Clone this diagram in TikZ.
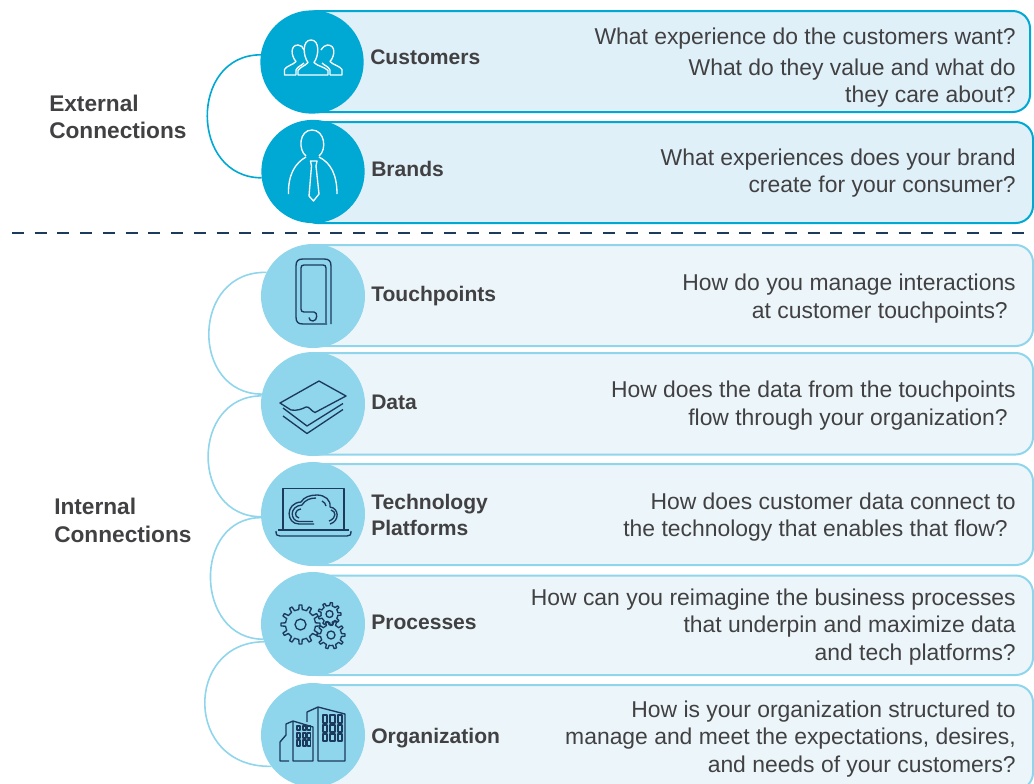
\documentclass[tikz,border=0pt]{standalone}
\usepackage{fontspec}
\setmainfont{Liberation Sans}
\usetikzlibrary{fit}
\definecolor{extc}{HTML}{00A8D4}
\definecolor{extf}{HTML}{DFF0F8}
\definecolor{intc}{HTML}{8FD5EC}
\definecolor{intf}{HTML}{ECF6FA}
\definecolor{navy}{HTML}{1B3A5C}
\definecolor{txt}{HTML}{414042}
\newcommand{\gearicon}[6]{%
  \begin{scope}[shift={(#1,#2)}]
    \pgfmathsetmacro{\gs}{360/#5}
    \foreach \gi in {1,...,#5}{
      \pgfmathsetmacro{\ga}{\gi*\gs}
      \draw[iconn] (\ga-0.5*\gs:#4) -- (\ga-0.22*\gs:#4) -- (\ga-0.14*\gs:#3) -- (\ga+0.14*\gs:#3) -- (\ga+0.22*\gs:#4) -- (\ga+0.5*\gs:#4);
    }
    \draw[iconn] (0,0) circle[radius=#6];
  \end{scope}}
\tikzset{
  x=0.75pt,y=-0.75pt,
  boxext/.style={draw=extc,fill=extf,line width=1.5pt,rounded corners=13pt,inner sep=0pt,outer sep=0pt},
  boxint/.style={draw=intc,fill=intf,line width=1.5pt,rounded corners=13pt,inner sep=0pt,outer sep=0pt},
  circext/.style={circle,fill=extc,minimum size=77.5pt,inner sep=0pt,outer sep=0pt},
  circint/.style={circle,fill=intc,minimum size=78pt,inner sep=0pt,outer sep=0pt},
  linkext/.style={draw=extc,line width=1.2pt},
  linkint/.style={draw=intc,line width=1.2pt},
  iconw/.style={draw=white,line width=1pt,line join=round},
  iconn/.style={draw=navy,line width=1pt,line join=round},
  topic/.style={font=\fontsize{15.8}{20}\selectfont\bfseries,text=txt,anchor=west,align=left,inner sep=0pt},
  group/.style={font=\fontsize{17}{20.6}\selectfont\bfseries,text=txt,anchor=west,align=left,inner sep=0pt},
  ask/.style={font=\fontsize{17.17}{20.4}\selectfont,text=txt,anchor=east,align=right,inner sep=0pt},
}
\begin{document}
\begin{tikzpicture}
\useasboundingbox (0,0) rectangle (1034,783);
% panels
\node[boxext,fit={(300,11)(1030,112)}] (bcust) {};
\node[boxext,fit={(300,122)(1033,223)}] (bbrand) {};
\node[boxint,fit={(300,245)(1033,346)}] (btouch) {};
\node[boxint,fit={(300,353)(1033,454.5)}] (bdata) {};
\node[boxint,fit={(300,464)(1033,565)}] (btech) {};
\node[boxint,fit={(300,575.5)(1033,675)}] (bproc) {};
\node[boxint,fit={(300,685)(1033,790)}] (borg) {};
% circles
\node[circext] (cust) at (312,62) {};
\node[circext] (brand) at (313,171.5) {};
\node[circint] (touch) at (313,296) {};
\node[circint] (data) at (313,404) {};
\node[circint] (tech) at (313,514) {};
\node[circint] (proc) at (313,624) {};
\node[circint] (org) at (313,735) {};
% connectors
\draw[linkext] (cust.172) .. controls +(-72,0) and +(-72,0) .. (brand.187);
\draw[linkint] (touch.153) .. controls +(-76,-2) and +(-72,0) .. (data.169);
\draw[linkint] (data.171) .. controls +(-71,0) and +(-71,0) .. (tech.183);
\draw[linkint] (tech.184) .. controls +(-69,0) and +(-69,0) .. (proc.197);
\draw[linkint] (proc.200) .. controls +(-80,0) and +(-88,2) .. (org.217);
% divider
\coordinate (dl) at (12,233);
\coordinate (dr) at (1024,233);
\draw[navy,line width=1.2pt,dash pattern=on 9pt off 8.05pt] (dl) -- (dr);
% labels
\node[group] (lext) at (49,117) {External\\Connections};
\node[group] (lint) at (54,520.5) {Internal\\Connections};
\node[topic] (tcust) at (370,57) {Customers};
\node[topic] (tbrand) at (371,169) {Brands};
\node[topic] (ttouch) at (371,296) {Touchpoints};
\node[topic] (tdata) at (371,402.5) {Data};
\node[topic] (ttech) at (371,515) {Technology\\Platforms};
\node[topic] (tproc) at (371,622) {Processes};
\node[topic] (torg) at (371,738) {Organization};
\node[ask] (q1) at (1016,38.5) {What experience do the customers want?};
\node[ask] (q1b) at (1016,83) {What do they value and what do\\they care about?};
\node[ask] (q2) at (1016,173) {What experiences does your brand\\create for your consumer?};
\node[ask] (q3) at (1016,298.5) {How do you manage interactions\\at customer touchpoints?\hspace*{6pt}};
\node[ask] (q4) at (1016,405.5) {How does the data from the touchpoints\\flow through your organization?\hspace*{6pt}};
\node[ask] (q5) at (1016,517) {How does customer data connect to\\the technology that enables that flow?\hspace*{6pt}};
\node[ask] (q6) at (1016,627) {How can you reimagine the business processes\\that underpin and maximize data\hspace*{4pt}\\and tech platforms?};
\node[ask] (q7) at (1016,739) {How is your organization structured to\\manage and meet the expectations, desires,\\and needs of your customers?};
% customers icon
\draw[iconw] (298,75) -- (298,70.5) .. controls (300,67) and (305,66) .. (308,62.5) .. controls (303,56) and (302,40) .. (311,40) .. controls (320,40) and (319,56) .. (314,62.5) .. controls (317,66) and (325,67) .. (328,70.5) -- (328,75) -- cycle;
\draw[iconw] (296,75) -- (284.5,75) -- (284.5,69.5) .. controls (286,66) and (293,65) .. (296,61.5) .. controls (291,56) and (290,45) .. (298,45) .. controls (301,45) and (303,47) .. (304,50);
\draw[iconw] (296,75) -- (296,70) .. controls (298,66) and (301,66) .. (304,63);
\draw[iconw] (330,75) -- (342,75) -- (342,69.5) .. controls (340,66) and (333,65) .. (330,61.5) .. controls (335,56) and (336,45) .. (327.5,45) .. controls (325,45) and (323,47) .. (321,50);
\draw[iconw] (330,75) -- (330,70) .. controls (328,66) and (325,66) .. (322,63);
% brands icon
\draw[iconw] (306,156) .. controls (298,150) and (299,130) .. (312,130) .. controls (325,130) and (327,150) .. (319,156);
\draw[iconw] (288.5,194) .. controls (288,175) and (295,163) .. (306,157);
\draw[iconw] (337,194) .. controls (337,175) and (331,163) .. (319,157);
\draw[iconw] (310.5,161) -- (317,161) -- (316,166) -- (319,194) -- (315,199) -- (313.5,201) -- (309,196) -- (311.5,166) -- cycle;
% touchpoints icon
\draw[iconn] (331,324) -- (331,266) .. controls (331,261) and (329,259) .. (324,259) -- (303,259) .. controls (298,259) and (296,261) .. (296,266) -- (296,317) .. controls (296,322) and (298,324) .. (303,324) -- (327,324);
\draw[iconn] (326,323) -- (326,268) .. controls (326,266) and (325,265) .. (323,265) -- (304,265) .. controls (302,265) and (301,266) .. (301,268) -- (301,309) .. controls (301,311) and (302,312) .. (304,312) -- (314,312) .. controls (318,312) and (317.5,321) .. (313,321) .. controls (311,321) and (309,320) .. (309,317.5);
% data icon
\draw[iconn] (319,381) -- (346,396) -- (315,412.5) .. controls (311,411) and (309,406) .. (306,407) .. controls (302,409) and (297,411) .. (291,410) -- (280,403) -- cycle;
\draw[iconn] (283,408) -- (307,426) -- (343,403.5);
\draw[iconn] (283,416) -- (307,433.5) -- (343,409.5);
% tech icon
\draw[iconn] (283,530) -- (283,488.5) -- (344,488.5) -- (344,530);
\draw[iconn] (276,531) .. controls (276,535) and (277,536) .. (280,536) -- (347,536) .. controls (350,536) and (351,535) .. (351,531);
\draw[iconn] (278,530) -- (349,530);
\draw[iconn] (314,524) -- (299,524) .. controls (286,524) and (285,503) .. (301,502) .. controls (304,497) and (310,495) .. (317,495) .. controls (325,495) and (331,500) .. (330,507) .. controls (339,508) and (340,521) .. (330,524);
\draw[iconn] (313,521.5) -- (299,521.5) .. controls (290,521) and (289,506) .. (302,505) .. controls (305,500) and (310,498) .. (316,498);
\draw[iconn] (299,518) .. controls (294,517) and (294,510) .. (301,509);
\draw[iconn] (331,510) .. controls (336,511) and (337,518) .. (329,521);
\draw[iconn] (322,501) .. controls (324,502) and (326,504) .. (326,506);
% gears
\gearicon{300.5}{624.5}{19.5}{15}{12}{5.5}
\gearicon{329.5}{614}{11.5}{8.5}{9}{3.5}
\gearicon{331}{635}{14}{10.5}{10}{4}
% buildings
\draw[iconn] (307,722) -- (307,712) -- (318,707) -- (345,714) -- (345,761) -- (318,761) -- (318,707);
\draw[iconn] (289,761) -- (280,761) -- (280,742) -- (286,735) -- (286,724) -- (293,721) -- (313,727) -- (313,761) -- (293,761) -- (293,721);
\foreach \wx/\ww in {323/4,330/5,338/4}{\foreach \wy/\wh in {715/8,725/7,734/7}{\draw[iconn] (\wx,\wy) rectangle ++(\ww,\wh);}}
\foreach \wx/\ww in {297/3,303/3,307.5/3}{\foreach \wy/\wh in {726/4,733/5,740/6}{\draw[iconn] (\wx,\wy) rectangle ++(\ww,\wh);}}
\end{tikzpicture}
\end{document}
